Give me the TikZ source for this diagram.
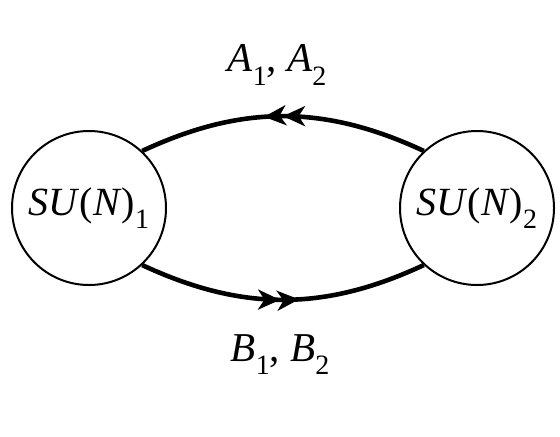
\documentclass[tikz,border=0pt]{standalone}
\usepackage{fontspec}
\setmainfont{Liberation Serif}
\usetikzlibrary{arrows.meta,decorations.markings}
\newcommand{\ix}[1]{\textit{#1}}
\newcommand{\lo}[1]{\raisebox{-0.32em}{\fontsize{14}{15}\selectfont #1}}
\tikzset{
  grp/.style={circle,draw,line width=1pt,minimum size=77pt,inner sep=0pt,
              font=\fontsize{20}{23}\selectfont},
  lbl/.style={font=\fontsize{20.5}{23}\selectfont},
  lnk/.style={line width=2.3pt},
  hd/.tip={Stealth[length=11pt,width=10pt,inset=3.2pt]},
  fwd/.style={postaction={decorate},decoration={markings,
      mark=at position 0.49 with {\arrow{hd}},
      mark=at position 0.555 with {\arrow{hd}}}},
  bwd/.style={postaction={decorate},decoration={markings,
      mark=at position 0.435 with {\arrowreversed{hd}},
      mark=at position 0.50 with {\arrowreversed{hd}}}},
}
\begin{document}
\begin{tikzpicture}[x=0.5pt,y=0.5pt]
  \useasboundingbox (0,0) rectangle (560,436);

  \node[grp] (g1) at (89,228) {\ix{SU}(\ix{N})\lo{1}};
  \node[grp] (g2) at (477,228) {\ix{SU}(\ix{N})\lo{2}};

  \draw[lnk,bwd] (g1.47) to[out=25,in=155] (g2.133);
  \draw[lnk,fwd] (g1.-47) to[out=-25,in=-155] (g2.-133);

  \node[lbl] (ab) at (277,371) {\ix{A}\lo{1}, \ix{A}\lo{2}};
  \node[lbl] (bb) at (280,81) {\ix{B}\lo{1}, \ix{B}\lo{2}};

\end{tikzpicture}
\end{document}
